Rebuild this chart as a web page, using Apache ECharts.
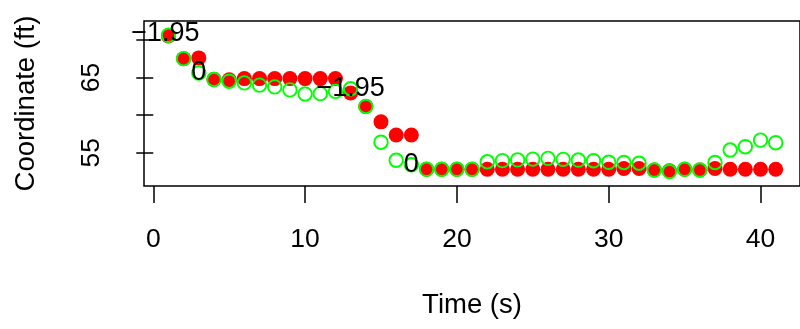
<!DOCTYPE html>
<html>
<head>
<meta charset="utf-8">
<script src="https://cdn.jsdelivr.net/npm/echarts@6/dist/echarts.min.js"></script>
<style>
html,body{margin:0;padding:0;background:#fff;}
#chart{width:800px;height:329px;}
</style>
</head>
<body>
<div id="chart"></div>
<script>
const time = [1,2,3,4,5,6,7,8,9,10,11,12,13,14,15,16,17,18,19,20,21,22,23,24,25,26,27,28,29,30,31,32,33,34,35,36,37,38,39,40,41];
const redSeries = [70.5,67.5,67.6,64.75,64.7,64.85,64.85,64.85,64.85,64.85,64.85,64.85,62.95,61.15,59.1,57.35,57.35,52.8,52.8,52.8,52.8,52.8,52.8,52.8,52.8,52.8,52.8,52.8,52.8,52.8,52.9,52.9,52.7,52.6,52.8,52.7,52.9,52.8,52.8,52.8,52.8];
const greenSeries = [70.6,67.5,65.6,64.73,64.5,64.28,63.98,63.75,63.35,62.8,62.85,63.15,63.5,61.15,56.4,54.0,53.4,52.8,52.8,52.8,52.8,53.8,53.95,54.05,54.15,54.25,54.12,54.03,53.94,53.73,53.7,53.6,52.7,52.5,52.8,52.7,53.7,55.36,55.8,56.68,56.33];
const noteTime = [0.8,3,13,17];
const noteValue = [70.8,65.6,63.5,53.4];
const noteText = ['\u22121.95','0','\u22121.95','0'];
const xTicks = [0,10,20,30,40];
const yTicks = [55,60,65,70];
const yTickLabels = [55,65];

const FONT = 'Liberation Sans';
const chart = echarts.init(document.getElementById('chart'), null, {renderer:'canvas'});
chart.setOption({
  animation:false,
  backgroundColor:'#fff',
  grid:{left:144,top:21,right:-9,bottom:143,show:true,borderColor:'#000',borderWidth:1.5,backgroundColor:'transparent'},
  xAxis:{
    type:'value',min:-0.61,max:42.6,
    name:'Time (s)',nameLocation:'middle',nameGap:105,
    nameTextStyle:{fontFamily:FONT,fontSize:27.5,color:'#000'},
    axisLine:{show:false},
    splitLine:{show:false},
    axisTick:{show:true,customValues:xTicks,length:17,lineStyle:{color:'#000',width:1.5}},
    axisLabel:{customValues:xTicks,fontFamily:FONT,fontSize:26.5,color:'#000',margin:40}
  },
  yAxis:{
    type:'value',min:50.58,max:72.5,
    name:'Coordinate (ft)',nameLocation:'middle',nameGap:104,nameRotate:90,
    nameTextStyle:{fontFamily:FONT,fontSize:27.5,color:'#000'},
    axisLine:{show:false},
    splitLine:{show:false},
    axisTick:{show:true,customValues:yTicks,length:17,lineStyle:{color:'#000',width:1.5}},
    axisLabel:{customValues:yTickLabels,rotate:90,fontFamily:FONT,fontSize:26.5,color:'#000',margin:39}
  },
  series:[
    {type:'scatter',data:time.map((t,i)=>[t,redSeries[i]]),symbol:'circle',symbolSize:15,
     itemStyle:{color:'#ff0000',opacity:1},z:2},
    {type:'scatter',data:time.map((t,i)=>[t,greenSeries[i]]),symbol:'circle',symbolSize:13.5,
     itemStyle:{color:'transparent',borderColor:'#00ff00',borderWidth:1.9,opacity:1},z:3},
    {type:'scatter',data:noteTime.map((t,i)=>[t,noteValue[i],noteText[i]]),symbolSize:0,z:4,
     itemStyle:{opacity:1},
     label:{show:true,position:'inside',formatter:p=>p.value[2],fontFamily:FONT,fontSize:27,color:'#000',opacity:1,textBorderWidth:0}}
  ]
});
</script>
</body>
</html>
